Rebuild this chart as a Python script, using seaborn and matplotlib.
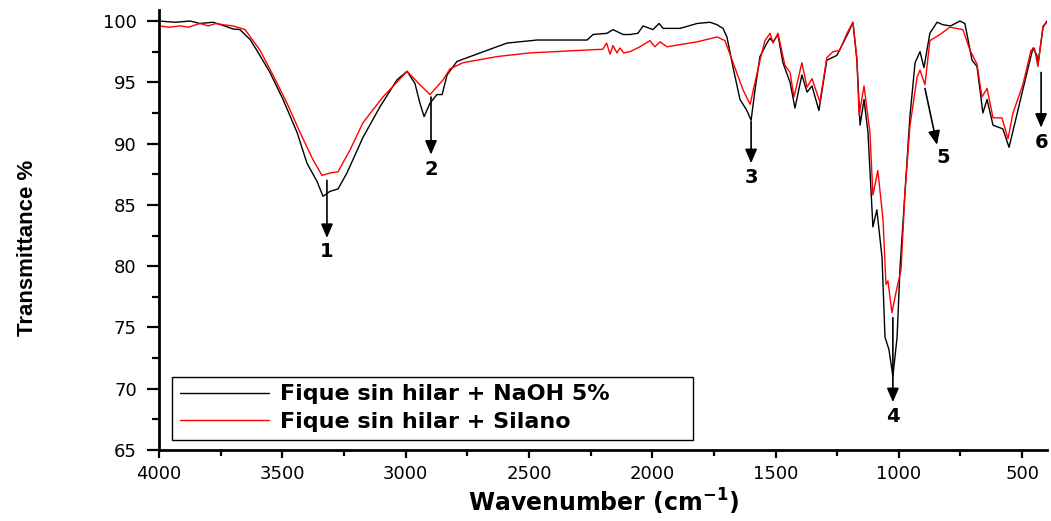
import matplotlib
matplotlib.use('Agg')
import numpy as np
import pandas as pd
import seaborn as sns
import matplotlib.pyplot as plt
from matplotlib.ticker import MultipleLocator, FixedLocator

# ---------------- data ----------------
series_names = ["Fique sin hilar + NaOH 5%", "Fique sin hilar + Silano"]

naoh_wn = [4000, 3935, 3874, 3834, 3781, 3750, 3720, 3700, 3672, 3631, 3603, 3550, 3497,
           3440, 3400, 3359, 3335, 3307, 3274, 3238, 3173, 3104, 3035, 2994, 2962, 2942,
           2925, 2901, 2873, 2852, 2832, 2792, 2698, 2589, 2467, 2264, 2240, 2183, 2159,
           2118, 2090, 2058, 2037, 1997, 1972, 1956, 1887, 1818, 1766, 1737, 1713, 1697,
           1672, 1644, 1616, 1599, 1583, 1563, 1535, 1522, 1510, 1490, 1470, 1441, 1421,
           1393, 1372, 1352, 1324, 1292, 1251, 1226, 1206, 1186, 1170, 1157, 1141, 1125,
           1105, 1089, 1068, 1056, 1040, 1024, 1007, 995, 975, 955, 934, 914, 898, 874,
           845, 821, 790, 752, 732, 703, 683, 659, 642, 618, 578, 553, 529, 497, 456, 440,
           436, 415, 399]
naoh_t = [100.0, 99.9, 100.0, 99.8, 99.9, 99.7, 99.5, 99.35, 99.3, 98.5, 97.6, 95.8, 93.6,
          90.9, 88.4, 86.9, 85.7, 86.1, 86.3, 87.6, 90.5, 93.0, 95.2, 95.9, 94.9, 93.3,
          92.2, 93.3, 94.0, 94.0, 95.6, 96.7, 97.4, 98.2, 98.45, 98.45, 98.9, 99.0, 99.3,
          98.9, 98.9, 99.0, 99.6, 99.3, 99.8, 99.4, 99.4, 99.8, 99.9, 99.7, 99.4, 98.7,
          96.2, 93.6, 92.7, 91.9, 94.4, 97.1, 98.2, 98.6, 98.3, 98.9, 96.6, 95.0, 92.9,
          95.6, 94.2, 94.7, 92.7, 96.8, 97.2, 98.2, 99.0, 99.9, 96.8, 91.5, 93.6, 90.9,
          83.2, 84.6, 80.7, 74.2, 73.2, 71.0, 74.2, 79.9, 86.0, 92.2, 96.6, 97.5, 96.2, 99.0,
          99.9, 99.7, 99.6, 100.0, 99.8, 96.8, 96.3, 92.5, 93.6, 91.5, 91.2, 89.7, 91.7, 94.4,
          97.8, 97.2, 96.4, 99.5, 100.0]

silano_wn = [4000, 3960, 3915, 3880, 3834, 3800, 3770, 3740, 3700, 3651, 3590, 3538, 3481,
             3428, 3376, 3339, 3307, 3274, 3225, 3173, 3092, 2994, 2942, 2901, 2848, 2820,
             2767, 2629, 2496, 2200, 2185, 2171, 2159, 2143, 2131, 2115, 2090, 2050, 2009,
             1989, 1968, 1940, 1880, 1818, 1737, 1705, 1672, 1632, 1603, 1583, 1563, 1543,
             1522, 1510, 1490, 1462, 1441, 1425, 1393, 1372, 1352, 1320, 1292, 1267, 1240,
             1210, 1186, 1170, 1161, 1141, 1117, 1105, 1085, 1064, 1052, 1044, 1028, 1011,
             991, 975, 955, 926, 914, 894, 874, 833, 793, 740, 711, 683, 663, 642, 618, 582,
             557, 537, 497, 464, 450, 436, 415, 399]
silano_t = [99.6, 99.5, 99.6, 99.5, 99.8, 99.6, 99.8, 99.7, 99.6, 99.3, 97.6, 95.6, 93.3,
            90.9, 88.7, 87.4, 87.6, 87.7, 89.5, 91.7, 93.8, 95.9, 94.8, 94.0, 95.2, 96.1,
            96.6, 97.1, 97.4, 97.7, 98.2, 97.3, 98.0, 97.4, 97.8, 97.4, 97.5, 97.9, 98.4,
            97.9, 98.3, 97.9, 98.1, 98.3, 98.7, 98.4, 96.6, 94.4, 93.2, 95.0, 96.8, 98.4,
            99.0, 98.2, 99.0, 96.4, 95.8, 93.8, 96.6, 94.6, 95.3, 93.4, 97.0, 97.5, 97.6,
            99.0, 99.9, 97.0, 92.3, 94.7, 90.9, 85.8, 87.8, 83.8, 78.5, 78.8, 76.2, 77.9,
            79.7, 86.0, 91.4, 95.4, 96.0, 94.8, 98.4, 98.9, 99.5, 99.3, 97.6, 96.5, 93.8,
            94.5, 92.1, 92.1, 90.4, 92.5, 94.8, 97.6, 97.8, 96.3, 99.6, 99.9]

x_ticks = [4000, 3500, 3000, 2500, 2000, 1500, 1000, 500]
y_ticks = [65, 70, 75, 80, 85, 90, 95, 100]

peak_labels = ["1", "2", "3", "4", "5", "6"]
peak_tail_wn = [3319, 2897, 1599, 1024, 894, 423]
peak_tail_t = [87.0, 93.8, 91.8, 75.8, 94.5, 95.8]
peak_tip_wn = [3319, 2897, 1599, 1024, 845, 423]
peak_tip_t = [82.3, 89.1, 88.4, 68.9, 89.9, 91.3]
peak_text_wn = [3319, 2897, 1599, 1024, 821, 423]
peak_text_t = [81.2, 87.85, 87.2, 67.7, 88.9, 90.1]

# ---------------- figure ----------------
sns.set_theme(style='ticks')
plt.rcParams['font.family'] = ['DejaVu Sans']
plt.rcParams['text.color'] = 'black'

df = pd.concat([
    pd.DataFrame({'wn': naoh_wn, 'T': naoh_t, 'Serie': series_names[0]}),
    pd.DataFrame({'wn': silano_wn, 'T': silano_t, 'Serie': series_names[1]}),
], ignore_index=True)

fig = plt.figure(figsize=(10.51, 5.21), dpi=100)
ax = fig.add_axes([0.1513, 0.1363, 0.8449, 0.8445])

sns.lineplot(data=df, x='wn', y='T', hue='Serie', hue_order=series_names,
             palette=['black', 'red'], estimator=None, sort=False,
             linewidth=1.0, ax=ax)

ax.set_xlim(4000, 399)
ax.set_ylim(65, 100.9)

for s in ['top', 'right']:
    ax.spines[s].set_visible(False)
for s in ['left', 'bottom']:
    ax.spines[s].set_linewidth(2.0)
    ax.spines[s].set_color('black')

ax.xaxis.set_major_locator(FixedLocator(x_ticks))
ax.yaxis.set_major_locator(FixedLocator(y_ticks))
ax.xaxis.set_minor_locator(MultipleLocator(250))
ax.yaxis.set_minor_locator(MultipleLocator(2.5))
ax.set_xticklabels([str(v) for v in x_ticks])
ax.set_yticklabels([str(v) for v in y_ticks])

ax.tick_params(axis='x', which='major', direction='out', length=6, width=1.6,
               labelsize=13, pad=5, color='black', labelcolor='black')
ax.tick_params(axis='x', which='minor', direction='out', length=4, width=1.6, color='black')
ax.tick_params(axis='y', which='major', direction='out', length=9, width=1.6,
               labelsize=13, pad=7, color='black', labelcolor='black')
ax.tick_params(axis='y', which='minor', direction='out', length=5, width=1.6, color='black')

ax.set_xlabel(r'Wavenumber (cm$^{\mathbf{-1}}$)', fontsize=17, fontweight='bold', color='black')
ax.set_ylabel('Transmittance %', fontsize=16, fontweight='bold', color='black',
              family=['Liberation Sans', 'DejaVu Sans'])
ax.xaxis.set_label_coords(0.5, -0.083)
ax.yaxis.set_label_coords(-0.136, 0.46)

# peak arrows and numbers
for lab, tw, tt, hw, ht, xw, xt in zip(peak_labels, peak_tail_wn, peak_tail_t,
                                       peak_tip_wn, peak_tip_t, peak_text_wn, peak_text_t):
    ax.annotate('', xy=(hw, ht), xytext=(tw, tt),
                arrowprops=dict(arrowstyle='-|>,head_length=0.7,head_width=0.3',
                                color='black', lw=1.2, shrinkA=0, shrinkB=0,
                                mutation_scale=12))
    ax.text(xw, xt, lab, ha='center', va='center', fontsize=14,
            fontweight='bold', color='black')

handles, labels = ax.get_legend_handles_labels()
leg = ax.legend(handles, labels, loc='lower left',
                bbox_to_anchor=(0.0146, 0.0227, 0.587, 0.145), mode='expand',
                borderaxespad=0, frameon=True, fancybox=False, framealpha=1,
                edgecolor='black', prop={'weight': 'bold', 'size': 16},
                handlelength=4, handletextpad=0.5, labelspacing=0.35,
                borderpad=0.35)
leg.get_frame().set_linewidth(1.0)
for t in leg.get_texts():
    t.set_color('black')

fig.savefig('out.png', dpi=100)
